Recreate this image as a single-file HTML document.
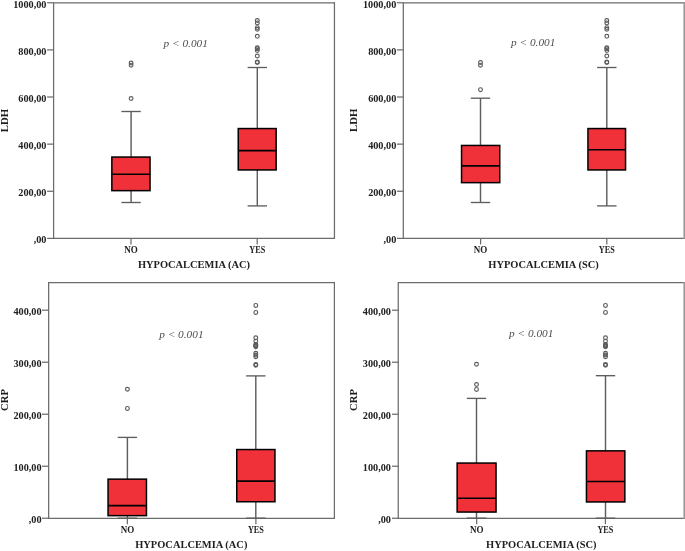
<!DOCTYPE html>
<html><head><meta charset="utf-8"><title>Boxplots</title>
<style>
html,body{margin:0;padding:0;background:#fff;overflow:hidden;}
svg{display:block;will-change:transform;}
text{font-family:"Liberation Serif",serif;fill:#202020;}
.yt{font-size:10.8px;font-weight:bold;}
.ct{font-size:9.6px;font-weight:bold;}
.tt{font-size:10.45px;font-weight:bold;}
.yl{font-weight:bold;}
.pt{font-size:11.3px;font-style:italic;fill:#4c4c4c;}
</style></head><body>
<svg width="685" height="551" viewBox="0 0 685 551">
<rect x="0" y="0" width="685" height="551" fill="#fff"/>
<path d="M334.45 2.75H53.6V238.4H334.45" fill="none" stroke="#6c6c6c" stroke-width="1.25" stroke-linejoin="miter"/>
<line x1="334.45" y1="2.12" x2="334.45" y2="239.03" stroke="#6c6c6c" stroke-width="1.25"/>
<line x1="47.1" y1="238.40" x2="53.6" y2="238.40" stroke="#6c6c6c" stroke-width="1.25"/>
<text transform="translate(46.5,243.20) scale(0.95,1)" text-anchor="end" class="yt">,00</text>
<line x1="47.1" y1="191.27" x2="53.6" y2="191.27" stroke="#6c6c6c" stroke-width="1.25"/>
<text transform="translate(46.5,196.07) scale(0.95,1)" text-anchor="end" class="yt">200,00</text>
<line x1="47.1" y1="144.14" x2="53.6" y2="144.14" stroke="#6c6c6c" stroke-width="1.25"/>
<text transform="translate(46.5,148.94) scale(0.95,1)" text-anchor="end" class="yt">400,00</text>
<line x1="47.1" y1="97.01" x2="53.6" y2="97.01" stroke="#6c6c6c" stroke-width="1.25"/>
<text transform="translate(46.5,101.81) scale(0.95,1)" text-anchor="end" class="yt">600,00</text>
<line x1="47.1" y1="49.88" x2="53.6" y2="49.88" stroke="#6c6c6c" stroke-width="1.25"/>
<text transform="translate(46.5,54.68) scale(0.95,1)" text-anchor="end" class="yt">800,00</text>
<line x1="47.1" y1="2.75" x2="53.6" y2="2.75" stroke="#6c6c6c" stroke-width="1.25"/>
<text transform="translate(46.5,7.55) scale(0.95,1)" text-anchor="end" class="yt">1000,00</text>
<text transform="translate(7.6,120.5) rotate(-90)" text-anchor="middle" class="yl" font-size="10.85">LDH</text>
<line x1="131.0" y1="238.4" x2="131.0" y2="244.40" stroke="#6c6c6c" stroke-width="1.25"/>
<text transform="translate(131.0,252.85) scale(0.94,1)" text-anchor="middle" class="ct">NO</text>
<line x1="257.2" y1="238.4" x2="257.2" y2="244.40" stroke="#6c6c6c" stroke-width="1.25"/>
<text transform="translate(257.2,252.85) scale(0.86,1)" text-anchor="middle" class="ct">YES</text>
<text x="194.0" y="268.1" text-anchor="middle" class="tt">HYPOCALCEMIA (AC)</text>
<text x="163.5" y="46.9" class="pt">p &lt; 0.001</text>
<line x1="131.1" y1="111.5" x2="131.1" y2="202.5" stroke="#5e5e5e" stroke-width="1.45"/>
<line x1="121.40" y1="111.5" x2="140.80" y2="111.5" stroke="#5e5e5e" stroke-width="1.35"/>
<line x1="121.40" y1="202.5" x2="140.80" y2="202.5" stroke="#5e5e5e" stroke-width="1.35"/>
<rect x="111.85" y="157.05" width="38.20" height="33.60" fill="#f03139" stroke="#000" stroke-width="1.5"/>
<line x1="111.85" y1="174.2" x2="150.05" y2="174.2" stroke="#000" stroke-width="1.6"/>
<circle cx="131.1" cy="98.5" r="1.9" fill="none" stroke="#5c5c5c" stroke-width="1.15"/>
<circle cx="131.1" cy="65.2" r="1.9" fill="none" stroke="#5c5c5c" stroke-width="1.15"/>
<circle cx="131.1" cy="63.0" r="1.9" fill="none" stroke="#5c5c5c" stroke-width="1.15"/>
<line x1="257.3" y1="67.5" x2="257.3" y2="205.9" stroke="#5e5e5e" stroke-width="1.45"/>
<line x1="247.60" y1="67.5" x2="267.00" y2="67.5" stroke="#5e5e5e" stroke-width="1.35"/>
<line x1="247.60" y1="205.9" x2="267.00" y2="205.9" stroke="#5e5e5e" stroke-width="1.35"/>
<rect x="238.25" y="128.55" width="37.90" height="41.40" fill="#f03139" stroke="#000" stroke-width="1.5"/>
<line x1="238.25" y1="150.6" x2="276.15" y2="150.6" stroke="#000" stroke-width="1.6"/>
<circle cx="257.3" cy="20.5" r="1.9" fill="none" stroke="#5c5c5c" stroke-width="1.15"/>
<circle cx="257.3" cy="22.9" r="1.9" fill="none" stroke="#5c5c5c" stroke-width="1.15"/>
<circle cx="257.3" cy="27.6" r="1.9" fill="none" stroke="#5c5c5c" stroke-width="1.15"/>
<circle cx="257.3" cy="29.2" r="1.9" fill="none" stroke="#5c5c5c" stroke-width="1.15"/>
<circle cx="257.3" cy="36.35" r="1.9" fill="none" stroke="#5c5c5c" stroke-width="1.15"/>
<circle cx="257.3" cy="47.8" r="1.9" fill="none" stroke="#5c5c5c" stroke-width="1.15"/>
<circle cx="257.3" cy="48.7" r="1.9" fill="none" stroke="#5c5c5c" stroke-width="1.15"/>
<circle cx="257.3" cy="50.6" r="1.9" fill="none" stroke="#5c5c5c" stroke-width="1.15"/>
<circle cx="257.3" cy="56.0" r="1.9" fill="none" stroke="#5c5c5c" stroke-width="1.15"/>
<circle cx="257.3" cy="61.9" r="1.9" fill="none" stroke="#5c5c5c" stroke-width="1.15"/>
<circle cx="257.3" cy="62.6" r="1.9" fill="none" stroke="#5c5c5c" stroke-width="1.15"/>
<path d="M684.1 2.75H403.3V238.4H684.1" fill="none" stroke="#6c6c6c" stroke-width="1.25" stroke-linejoin="miter"/>
<line x1="684.25" y1="2.12" x2="684.25" y2="239.03" stroke="#9a9a9a" stroke-width="1.7"/>
<line x1="396.9" y1="238.40" x2="403.3" y2="238.40" stroke="#6c6c6c" stroke-width="1.25"/>
<text transform="translate(396.3,243.20) scale(0.95,1)" text-anchor="end" class="yt">,00</text>
<line x1="396.9" y1="191.27" x2="403.3" y2="191.27" stroke="#6c6c6c" stroke-width="1.25"/>
<text transform="translate(396.3,196.07) scale(0.95,1)" text-anchor="end" class="yt">200,00</text>
<line x1="396.9" y1="144.14" x2="403.3" y2="144.14" stroke="#6c6c6c" stroke-width="1.25"/>
<text transform="translate(396.3,148.94) scale(0.95,1)" text-anchor="end" class="yt">400,00</text>
<line x1="396.9" y1="97.01" x2="403.3" y2="97.01" stroke="#6c6c6c" stroke-width="1.25"/>
<text transform="translate(396.3,101.81) scale(0.95,1)" text-anchor="end" class="yt">600,00</text>
<line x1="396.9" y1="49.88" x2="403.3" y2="49.88" stroke="#6c6c6c" stroke-width="1.25"/>
<text transform="translate(396.3,54.68) scale(0.95,1)" text-anchor="end" class="yt">800,00</text>
<line x1="396.9" y1="2.75" x2="403.3" y2="2.75" stroke="#6c6c6c" stroke-width="1.25"/>
<text transform="translate(396.3,7.55) scale(0.95,1)" text-anchor="end" class="yt">1000,00</text>
<text transform="translate(357.1,120.3) rotate(-90)" text-anchor="middle" class="yl" font-size="10.85">LDH</text>
<line x1="480.6" y1="238.4" x2="480.6" y2="244.40" stroke="#6c6c6c" stroke-width="1.25"/>
<text transform="translate(480.6,252.85) scale(0.94,1)" text-anchor="middle" class="ct">NO</text>
<line x1="606.8" y1="238.4" x2="606.8" y2="244.40" stroke="#6c6c6c" stroke-width="1.25"/>
<text transform="translate(606.8,252.85) scale(0.86,1)" text-anchor="middle" class="ct">YES</text>
<text x="543.5" y="268.1" text-anchor="middle" class="tt">HYPOCALCEMIA (SC)</text>
<text x="511.0" y="46.4" class="pt">p &lt; 0.001</text>
<line x1="480.5" y1="98.2" x2="480.5" y2="202.5" stroke="#5e5e5e" stroke-width="1.45"/>
<line x1="470.80" y1="98.2" x2="490.20" y2="98.2" stroke="#5e5e5e" stroke-width="1.35"/>
<line x1="470.80" y1="202.5" x2="490.20" y2="202.5" stroke="#5e5e5e" stroke-width="1.35"/>
<rect x="461.55" y="145.45" width="38.20" height="37.20" fill="#f03139" stroke="#000" stroke-width="1.5"/>
<line x1="461.55" y1="165.9" x2="499.75" y2="165.9" stroke="#000" stroke-width="1.6"/>
<circle cx="480.5" cy="89.7" r="1.9" fill="none" stroke="#5c5c5c" stroke-width="1.15"/>
<circle cx="480.5" cy="65.2" r="1.9" fill="none" stroke="#5c5c5c" stroke-width="1.15"/>
<circle cx="480.5" cy="62.6" r="1.9" fill="none" stroke="#5c5c5c" stroke-width="1.15"/>
<line x1="606.8" y1="67.5" x2="606.8" y2="205.9" stroke="#5e5e5e" stroke-width="1.45"/>
<line x1="597.10" y1="67.5" x2="616.50" y2="67.5" stroke="#5e5e5e" stroke-width="1.35"/>
<line x1="597.10" y1="205.9" x2="616.50" y2="205.9" stroke="#5e5e5e" stroke-width="1.35"/>
<rect x="587.95" y="128.55" width="37.60" height="41.40" fill="#f03139" stroke="#000" stroke-width="1.5"/>
<line x1="587.95" y1="149.7" x2="625.55" y2="149.7" stroke="#000" stroke-width="1.6"/>
<circle cx="606.8" cy="20.5" r="1.9" fill="none" stroke="#5c5c5c" stroke-width="1.15"/>
<circle cx="606.8" cy="22.9" r="1.9" fill="none" stroke="#5c5c5c" stroke-width="1.15"/>
<circle cx="606.8" cy="27.6" r="1.9" fill="none" stroke="#5c5c5c" stroke-width="1.15"/>
<circle cx="606.8" cy="29.2" r="1.9" fill="none" stroke="#5c5c5c" stroke-width="1.15"/>
<circle cx="606.8" cy="36.35" r="1.9" fill="none" stroke="#5c5c5c" stroke-width="1.15"/>
<circle cx="606.8" cy="47.8" r="1.9" fill="none" stroke="#5c5c5c" stroke-width="1.15"/>
<circle cx="606.8" cy="48.7" r="1.9" fill="none" stroke="#5c5c5c" stroke-width="1.15"/>
<circle cx="606.8" cy="50.6" r="1.9" fill="none" stroke="#5c5c5c" stroke-width="1.15"/>
<circle cx="606.8" cy="56.0" r="1.9" fill="none" stroke="#5c5c5c" stroke-width="1.15"/>
<circle cx="606.8" cy="61.9" r="1.9" fill="none" stroke="#5c5c5c" stroke-width="1.15"/>
<circle cx="606.8" cy="62.6" r="1.9" fill="none" stroke="#5c5c5c" stroke-width="1.15"/>
<path d="M334.4 282.5H48.65V518.25H334.4" fill="none" stroke="#6c6c6c" stroke-width="1.25" stroke-linejoin="miter"/>
<line x1="334.4" y1="281.88" x2="334.4" y2="518.88" stroke="#6c6c6c" stroke-width="1.25"/>
<line x1="42.0" y1="518.25" x2="48.65" y2="518.25" stroke="#6c6c6c" stroke-width="1.25"/>
<text transform="translate(41.6,523.05) scale(0.95,1)" text-anchor="end" class="yt">,00</text>
<line x1="42.0" y1="466.24" x2="48.65" y2="466.24" stroke="#6c6c6c" stroke-width="1.25"/>
<text transform="translate(41.6,471.04) scale(0.95,1)" text-anchor="end" class="yt">100,00</text>
<line x1="42.0" y1="414.23" x2="48.65" y2="414.23" stroke="#6c6c6c" stroke-width="1.25"/>
<text transform="translate(41.6,419.03) scale(0.95,1)" text-anchor="end" class="yt">200,00</text>
<line x1="42.0" y1="362.22" x2="48.65" y2="362.22" stroke="#6c6c6c" stroke-width="1.25"/>
<text transform="translate(41.6,367.02) scale(0.95,1)" text-anchor="end" class="yt">300,00</text>
<line x1="42.0" y1="310.21" x2="48.65" y2="310.21" stroke="#6c6c6c" stroke-width="1.25"/>
<text transform="translate(41.6,315.01) scale(0.95,1)" text-anchor="end" class="yt">400,00</text>
<text transform="translate(7.9,400.0) rotate(-90)" text-anchor="middle" class="yl" font-size="10.6">CRP</text>
<line x1="127.4" y1="518.25" x2="127.4" y2="524.25" stroke="#6c6c6c" stroke-width="1.25"/>
<text transform="translate(127.4,532.75) scale(0.94,1)" text-anchor="middle" class="ct">NO</text>
<line x1="255.9" y1="518.25" x2="255.9" y2="524.25" stroke="#6c6c6c" stroke-width="1.25"/>
<text transform="translate(255.9,532.75) scale(0.86,1)" text-anchor="middle" class="ct">YES</text>
<text x="191.3" y="548.2" text-anchor="middle" class="tt">HYPOCALCEMIA (AC)</text>
<text x="159.2" y="337.5" class="pt">p &lt; 0.001</text>
<line x1="127.4" y1="437.4" x2="127.4" y2="518.15" stroke="#5e5e5e" stroke-width="1.45"/>
<line x1="117.70" y1="437.4" x2="137.10" y2="437.4" stroke="#5e5e5e" stroke-width="1.35"/>
<line x1="117.70" y1="518.15" x2="137.10" y2="518.15" stroke="#5e5e5e" stroke-width="1.35"/>
<rect x="108.05" y="479.15" width="38.40" height="36.50" fill="#f03139" stroke="#000" stroke-width="1.5"/>
<line x1="108.05" y1="505.6" x2="146.45" y2="505.6" stroke="#000" stroke-width="1.6"/>
<circle cx="127.4" cy="389.3" r="1.9" fill="none" stroke="#5c5c5c" stroke-width="1.15"/>
<circle cx="127.4" cy="408.4" r="1.9" fill="none" stroke="#5c5c5c" stroke-width="1.15"/>
<line x1="255.8" y1="375.9" x2="255.8" y2="518.15" stroke="#5e5e5e" stroke-width="1.45"/>
<line x1="246.10" y1="375.9" x2="265.50" y2="375.9" stroke="#5e5e5e" stroke-width="1.35"/>
<line x1="246.10" y1="518.15" x2="265.50" y2="518.15" stroke="#5e5e5e" stroke-width="1.35"/>
<rect x="236.75" y="449.55" width="38.20" height="52.20" fill="#f03139" stroke="#000" stroke-width="1.5"/>
<line x1="236.75" y1="481.1" x2="274.95" y2="481.1" stroke="#000" stroke-width="1.6"/>
<circle cx="255.8" cy="305.4" r="1.9" fill="none" stroke="#5c5c5c" stroke-width="1.15"/>
<circle cx="255.8" cy="312.4" r="1.9" fill="none" stroke="#5c5c5c" stroke-width="1.15"/>
<circle cx="255.8" cy="337.8" r="1.9" fill="none" stroke="#5c5c5c" stroke-width="1.15"/>
<circle cx="255.8" cy="341.1" r="1.9" fill="none" stroke="#5c5c5c" stroke-width="1.15"/>
<circle cx="255.8" cy="344.4" r="1.9" fill="none" stroke="#5c5c5c" stroke-width="1.15"/>
<circle cx="255.8" cy="345.2" r="1.9" fill="none" stroke="#5c5c5c" stroke-width="1.15"/>
<circle cx="255.8" cy="346.0" r="1.9" fill="none" stroke="#5c5c5c" stroke-width="1.15"/>
<circle cx="255.8" cy="346.8" r="1.9" fill="none" stroke="#5c5c5c" stroke-width="1.15"/>
<circle cx="255.8" cy="353.2" r="1.9" fill="none" stroke="#5c5c5c" stroke-width="1.15"/>
<circle cx="255.8" cy="355.0" r="1.9" fill="none" stroke="#5c5c5c" stroke-width="1.15"/>
<circle cx="255.8" cy="356.7" r="1.9" fill="none" stroke="#5c5c5c" stroke-width="1.15"/>
<circle cx="255.8" cy="364.5" r="1.9" fill="none" stroke="#5c5c5c" stroke-width="1.15"/>
<circle cx="255.8" cy="365.3" r="1.9" fill="none" stroke="#5c5c5c" stroke-width="1.15"/>
<path d="M684.1 282.5H398.25V518.25H684.1" fill="none" stroke="#6c6c6c" stroke-width="1.25" stroke-linejoin="miter"/>
<line x1="684.25" y1="281.88" x2="684.25" y2="518.88" stroke="#9a9a9a" stroke-width="1.7"/>
<line x1="392.0" y1="518.25" x2="398.25" y2="518.25" stroke="#6c6c6c" stroke-width="1.25"/>
<text transform="translate(391.0,523.05) scale(0.95,1)" text-anchor="end" class="yt">,00</text>
<line x1="392.0" y1="466.24" x2="398.25" y2="466.24" stroke="#6c6c6c" stroke-width="1.25"/>
<text transform="translate(391.0,471.04) scale(0.95,1)" text-anchor="end" class="yt">100,00</text>
<line x1="392.0" y1="414.23" x2="398.25" y2="414.23" stroke="#6c6c6c" stroke-width="1.25"/>
<text transform="translate(391.0,419.03) scale(0.95,1)" text-anchor="end" class="yt">200,00</text>
<line x1="392.0" y1="362.22" x2="398.25" y2="362.22" stroke="#6c6c6c" stroke-width="1.25"/>
<text transform="translate(391.0,367.02) scale(0.95,1)" text-anchor="end" class="yt">300,00</text>
<line x1="392.0" y1="310.21" x2="398.25" y2="310.21" stroke="#6c6c6c" stroke-width="1.25"/>
<text transform="translate(391.0,315.01) scale(0.95,1)" text-anchor="end" class="yt">400,00</text>
<text transform="translate(357.1,400.0) rotate(-90)" text-anchor="middle" class="yl" font-size="10.6">CRP</text>
<line x1="476.7" y1="518.25" x2="476.7" y2="524.25" stroke="#6c6c6c" stroke-width="1.25"/>
<text transform="translate(476.7,532.75) scale(0.94,1)" text-anchor="middle" class="ct">NO</text>
<line x1="605.4" y1="518.25" x2="605.4" y2="524.25" stroke="#6c6c6c" stroke-width="1.25"/>
<text transform="translate(605.4,532.75) scale(0.86,1)" text-anchor="middle" class="ct">YES</text>
<text x="541.3" y="548.2" text-anchor="middle" class="tt">HYPOCALCEMIA (SC)</text>
<text x="509.0" y="337.2" class="pt">p &lt; 0.001</text>
<line x1="476.5" y1="398.4" x2="476.5" y2="518.15" stroke="#5e5e5e" stroke-width="1.45"/>
<line x1="466.80" y1="398.4" x2="486.20" y2="398.4" stroke="#5e5e5e" stroke-width="1.35"/>
<line x1="466.80" y1="518.15" x2="486.20" y2="518.15" stroke="#5e5e5e" stroke-width="1.35"/>
<rect x="457.15" y="463.05" width="38.90" height="49.00" fill="#f03139" stroke="#000" stroke-width="1.5"/>
<line x1="457.15" y1="498.2" x2="496.05" y2="498.2" stroke="#000" stroke-width="1.6"/>
<circle cx="476.5" cy="364.3" r="1.9" fill="none" stroke="#5c5c5c" stroke-width="1.15"/>
<circle cx="476.5" cy="384.5" r="1.9" fill="none" stroke="#5c5c5c" stroke-width="1.15"/>
<circle cx="476.5" cy="389.4" r="1.9" fill="none" stroke="#5c5c5c" stroke-width="1.15"/>
<line x1="605.5" y1="375.7" x2="605.5" y2="518.15" stroke="#5e5e5e" stroke-width="1.45"/>
<line x1="595.80" y1="375.7" x2="615.20" y2="375.7" stroke="#5e5e5e" stroke-width="1.35"/>
<line x1="595.80" y1="518.15" x2="615.20" y2="518.15" stroke="#5e5e5e" stroke-width="1.35"/>
<rect x="586.45" y="450.85" width="38.40" height="51.10" fill="#f03139" stroke="#000" stroke-width="1.5"/>
<line x1="586.45" y1="481.5" x2="624.85" y2="481.5" stroke="#000" stroke-width="1.6"/>
<circle cx="605.5" cy="305.4" r="1.9" fill="none" stroke="#5c5c5c" stroke-width="1.15"/>
<circle cx="605.5" cy="312.4" r="1.9" fill="none" stroke="#5c5c5c" stroke-width="1.15"/>
<circle cx="605.5" cy="337.8" r="1.9" fill="none" stroke="#5c5c5c" stroke-width="1.15"/>
<circle cx="605.5" cy="341.1" r="1.9" fill="none" stroke="#5c5c5c" stroke-width="1.15"/>
<circle cx="605.5" cy="344.4" r="1.9" fill="none" stroke="#5c5c5c" stroke-width="1.15"/>
<circle cx="605.5" cy="345.2" r="1.9" fill="none" stroke="#5c5c5c" stroke-width="1.15"/>
<circle cx="605.5" cy="346.0" r="1.9" fill="none" stroke="#5c5c5c" stroke-width="1.15"/>
<circle cx="605.5" cy="346.8" r="1.9" fill="none" stroke="#5c5c5c" stroke-width="1.15"/>
<circle cx="605.5" cy="353.2" r="1.9" fill="none" stroke="#5c5c5c" stroke-width="1.15"/>
<circle cx="605.5" cy="355.0" r="1.9" fill="none" stroke="#5c5c5c" stroke-width="1.15"/>
<circle cx="605.5" cy="356.7" r="1.9" fill="none" stroke="#5c5c5c" stroke-width="1.15"/>
<circle cx="605.5" cy="364.5" r="1.9" fill="none" stroke="#5c5c5c" stroke-width="1.15"/>
<circle cx="605.5" cy="365.3" r="1.9" fill="none" stroke="#5c5c5c" stroke-width="1.15"/>
</svg>
</body></html>
